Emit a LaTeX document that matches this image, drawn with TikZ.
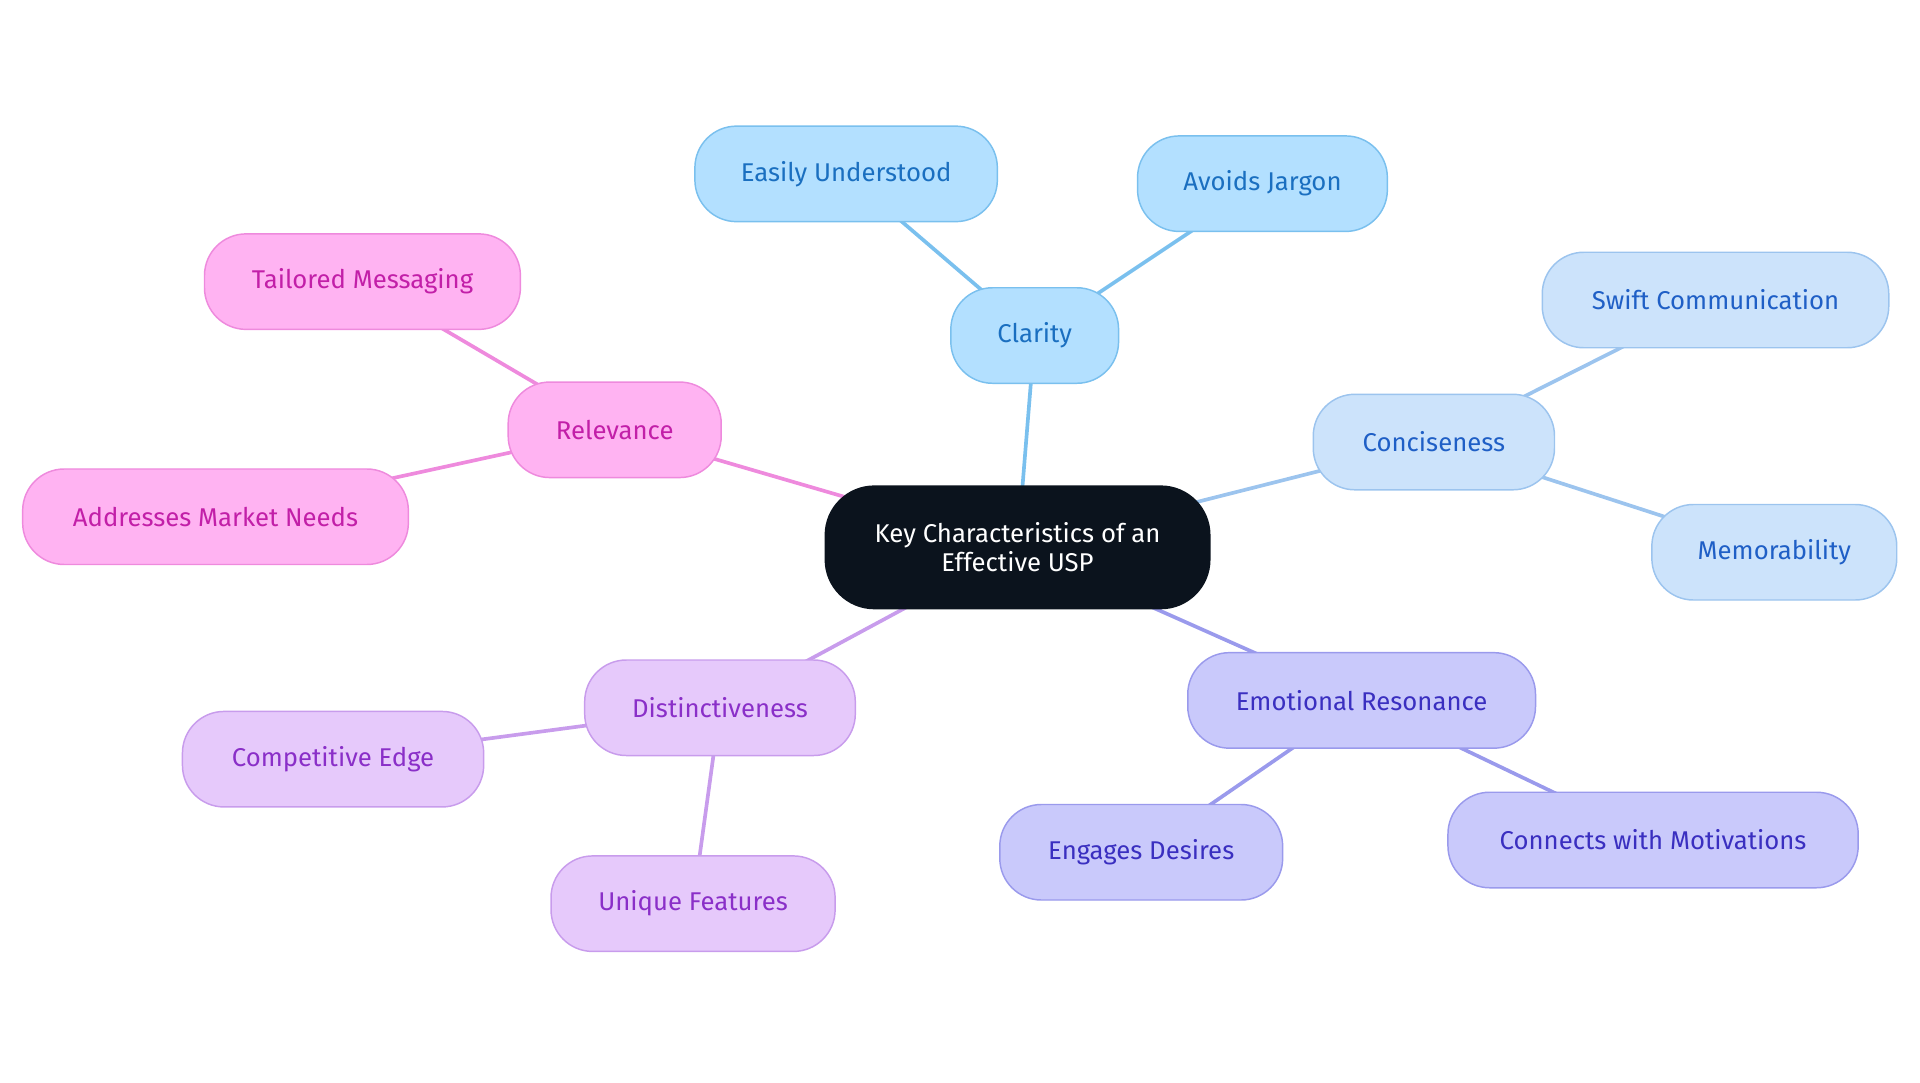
\documentclass[tikz,border=0pt]{standalone}
\usepackage{fontspec}
\setmainfont{Fira Sans}
\usetikzlibrary{backgrounds}
\definecolor{cenF}{HTML}{0B131D}
\definecolor{blF}{HTML}{B3E0FF}\definecolor{blD}{HTML}{7AC0EE}\definecolor{blT}{HTML}{1A6FC0}
\definecolor{lbF}{HTML}{CCE3FB}\definecolor{lbD}{HTML}{9CC4EE}\definecolor{lbT}{HTML}{1F5FC6}
\definecolor{puF}{HTML}{C9C9FB}\definecolor{puD}{HTML}{9A9AEC}\definecolor{puT}{HTML}{3A2FC0}
\definecolor{viF}{HTML}{E6C9FB}\definecolor{viD}{HTML}{C89CEC}\definecolor{viT}{HTML}{8A2FC8}
\definecolor{piF}{HTML}{FFB3F2}\definecolor{piD}{HTML}{EE8ADD}\definecolor{piT}{HTML}{C21FA8}
\begin{document}
\begin{tikzpicture}[x=0.5pt,y=-0.5pt,
 box/.style={draw,rounded corners=17pt,minimum height=39pt,inner sep=0pt,font=\fontsize{10.5}{12}\selectfont,line width=0.6pt},
 bl/.style={box,fill=blF,draw=blD,text=blT},
 lb/.style={box,fill=lbF,draw=lbD,text=lbT},
 pu/.style={box,fill=puF,draw=puD,text=puT},
 vi/.style={box,fill=viF,draw=viD,text=viT},
 pi/.style={box,fill=piF,draw=piD,text=piT},
 ed/.style={line width=1.5pt}]
\useasboundingbox (0,0) rectangle (1568,884);
\node[box,fill=cenF,draw=cenF,text=white,minimum width=157pt,minimum height=50pt,align=center,rounded corners=20pt] (c) at (831,447) {Key Characteristics of an\\Effective USP};
\node[bl,minimum width=68.5pt] (cl) at (845,274) {Clarity};
\node[bl,minimum width=123.5pt] (eu) at (691,142) {Easily Understood};
\node[bl,minimum width=102pt] (aj) at (1031,150) {Avoids Jargon};
\node[lb,minimum width=98.5pt] (co) at (1171,361) {Conciseness};
\node[lb,minimum width=141.5pt] (sc) at (1401,245) {Swift Communication};
\node[lb,minimum width=100pt] (me) at (1449,451) {Memorability};
\node[pu,minimum width=142pt] (er) at (1112,572) {Emotional Resonance};
\node[pu,minimum width=115.5pt] (ed) at (932,696) {Engages Desires};
\node[pu,minimum width=167.5pt] (cm) at (1350,686) {Connects with Motivations};
\node[vi,minimum width=110.5pt] (di) at (588,578) {Distinctiveness};
\node[vi,minimum width=123pt] (ce) at (272,620) {Competitive Edge};
\node[vi,minimum width=116pt] (uf) at (566,738) {Unique Features};
\node[pi,minimum width=87pt] (re) at (502,351) {Relevance};
\node[pi,minimum width=129pt] (tm) at (296,230) {Tailored Messaging};
\node[pi,minimum width=157.5pt] (am) at (176,422) {Addresses Market Needs};
\begin{scope}[on background layer]
\draw[ed,blD] (c.center)--(cl.center) (cl.center)--(eu.center) (cl.center)--(aj.center);
\draw[ed,lbD] (c.center)--(co.center) (co.center)--(sc.center) (co.center)--(me.center);
\draw[ed,puD] (c.center)--(er.center) (er.center)--(ed.center) (er.center)--(cm.center);
\draw[ed,viD] (c.center)--(di.center) (di.center)--(ce.center) (di.center)--(uf.center);
\draw[ed,piD] (c.center)--(re.center) (re.center)--(tm.center) (re.center)--(am.center);
\end{scope}
\end{tikzpicture}
\end{document}
